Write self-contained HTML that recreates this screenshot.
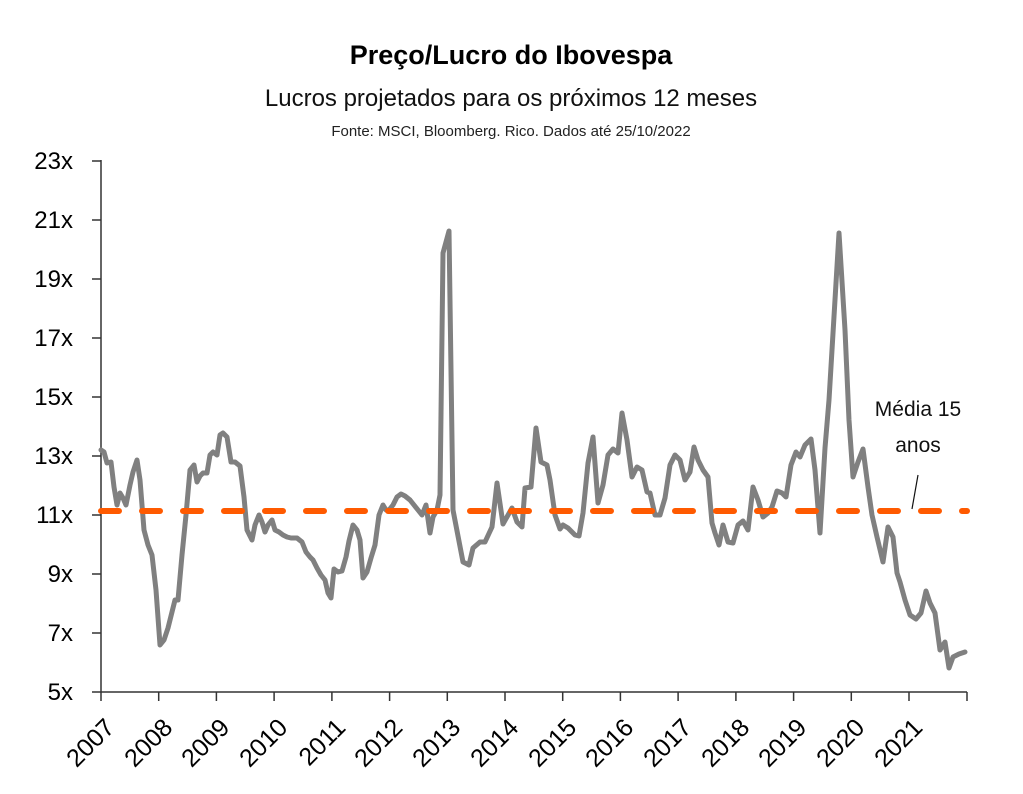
<!DOCTYPE html>
<html><head><meta charset="utf-8"><style>
body{margin:0;background:#fff;}
svg{display:block;}
</style></head><body>
<svg width="1023" height="794" viewBox="0 0 1023 794" xmlns="http://www.w3.org/2000/svg" font-family="Liberation Sans, sans-serif">
<text x="511" y="64" text-anchor="middle" font-size="27" font-weight="bold" fill="#000">Preço/Lucro do Ibovespa</text>
<text x="511" y="106" text-anchor="middle" font-size="24" fill="#111">Lucros projetados para os próximos 12 meses</text>
<text x="511" y="136" text-anchor="middle" font-size="15" fill="#222">Fonte: MSCI, Bloomberg. Rico. Dados até 25/10/2022</text>
<g stroke="#333" stroke-width="1.5" fill="none">
<path d="M101,160 V692 H967"/>
<path d="M92,161H101 M92,220H101 M92,279H101 M92,338H101 M92,397H101 M92,456H101 M92,515H101 M92,574H101 M92,633H101 M92,692H101"/>
<path d="M101,692v9 M158.7,692v9 M216.4,692v9 M274.1,692v9 M331.9,692v9 M389.6,692v9 M447.3,692v9 M505,692v9 M562.7,692v9 M620.4,692v9 M678.1,692v9 M735.9,692v9 M793.6,692v9 M851.3,692v9 M909,692v9 M967,692v9"/>
</g>
<g font-size="24" fill="#000" text-anchor="end">
<text x="73" y="169">23x</text><text x="73" y="228">21x</text><text x="73" y="287">19x</text><text x="73" y="346">17x</text><text x="73" y="405">15x</text><text x="73" y="464">13x</text><text x="73" y="523">11x</text><text x="73" y="582">9x</text><text x="73" y="641">7x</text><text x="73" y="700">5x</text>
</g>
<g font-size="25" fill="#000" text-anchor="end">
<text transform="translate(116,729) rotate(-45)">2007</text>
<text transform="translate(174,729) rotate(-45)">2008</text>
<text transform="translate(231,729) rotate(-45)">2009</text>
<text transform="translate(289,729) rotate(-45)">2010</text>
<text transform="translate(347,729) rotate(-45)">2011</text>
<text transform="translate(404,729) rotate(-45)">2012</text>
<text transform="translate(462,729) rotate(-45)">2013</text>
<text transform="translate(520,729) rotate(-45)">2014</text>
<text transform="translate(578,729) rotate(-45)">2015</text>
<text transform="translate(635,729) rotate(-45)">2016</text>
<text transform="translate(693,729) rotate(-45)">2017</text>
<text transform="translate(751,729) rotate(-45)">2018</text>
<text transform="translate(808,729) rotate(-45)">2019</text>
<text transform="translate(866,729) rotate(-45)">2020</text>
<text transform="translate(924,729) rotate(-45)">2021</text>
</g>
<polyline fill="none" stroke="#808080" stroke-width="5" stroke-linejoin="round" stroke-linecap="round" points="101,450 104,452 107,463 111,462 114,487 117,505 120,493 123,498 126,505 130,485 133,472 137,460 140,480 144,530 148,545 152,555 156,590 160,645 164,640 168,628 172,612 175,600 178,600 182,555 186,515 190,470 194,465 197,482 200,476 203,473 207,473 210,455 213,452 217,455 220,435 223,433 227,437 231,462 235,462 240,466 244,497 247,530 252,540 255,525 259,515 262,522 265,532 268,525 272,520 275,530 279,532 283,535 287,537 291,538 297,538 302,542 306,552 310,557 313,560 317,568 321,575 325,580 328,593 331,598 334,569 338,572 342,571 346,557 349,541 353,525 357,530 360,540 363,578 367,572 371,558 375,545 379,515 383,505 386,510 389,510 393,505 397,497 401,494 405,496 410,500 414,505 418,510 422,515 426,505 430,533 433,517 437,510 440,495 443,253 449,231 453,510 463,562 469,565 473,548 480,542 485,542 492,527 497,483 503,524 512,508 517,522 522,527 525,488 531,487 536,428 541,462 547,465 550,480 555,515 560,529 563,525 568,528 575,535 579,536 583,513 588,463 593,437 598,503 603,485 608,455 613,449 618,453 622,413 627,440 632,477 637,467 642,470 647,492 650,493 655,515 660,515 665,498 670,465 675,455 680,460 685,480 690,472 694,447 698,460 703,470 708,477 712,523 715,533 719,545 723,525 728,542 733,543 738,525 743,521 748,530 753,487 758,500 763,517 768,513 772,507 777,491 782,493 786,497 791,465 796,452 800,457 805,445 811,439 815,470 820,533 825,448 829,400 839,233 845,330 849,420 853,477 858,462 863,449 868,487 872,515 877,537 883,562 888,527 893,537 897,573 900,582 905,600 910,615 916,619 921,613 926,591 930,603 935,613 940,650 945,642 949,668 953,657 959,654 965,652"/>
<line x1="101" y1="511" x2="967" y2="511" stroke="#FF5A00" stroke-width="6" stroke-linecap="round" stroke-dasharray="18,23"/>
<text x="918" y="416" text-anchor="middle" font-size="21" fill="#111">Média 15</text>
<text x="918" y="452" text-anchor="middle" font-size="21" fill="#111">anos</text>
<line x1="918" y1="475" x2="912" y2="509" stroke="#111" stroke-width="1.2"/>
</svg>
</body></html>
